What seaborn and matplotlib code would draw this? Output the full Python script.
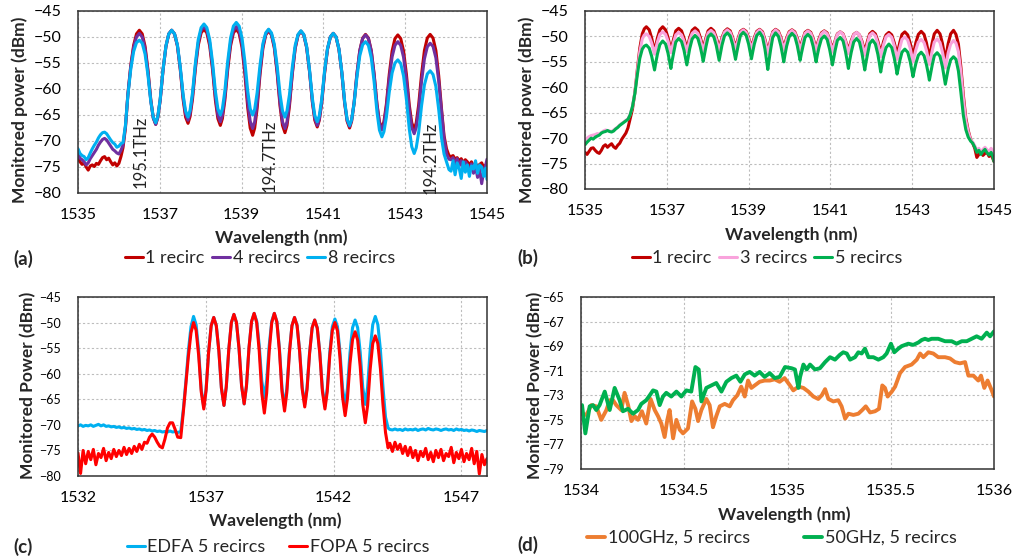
import numpy as np
import pandas as pd
import matplotlib
matplotlib.use('Agg')
import matplotlib.pyplot as plt
from matplotlib.ticker import FormatStrFormatter
import seaborn as sns

# ---------------- panel (a): 100GHz grid, 1 / 4 / 8 recirculations ----------------
wl_a = [1535.00, 1535.05, 1535.10, 1535.15, 1535.20, 1535.25, 1535.30, 1535.35, 1535.40, 1535.45, 1535.50,
        1535.55, 1535.60, 1535.65, 1535.70, 1535.75, 1535.80, 1535.85, 1535.90, 1535.95, 1536.00, 1536.05,
        1536.10, 1536.16, 1536.22, 1536.29, 1536.36, 1536.43,
        1536.50,
        1536.57, 1536.64, 1536.71, 1536.78, 1536.84, 1536.90, 1536.95, 1537.01, 1537.08, 1537.15, 1537.22, 1537.29,
        1537.36, 1537.43, 1537.50, 1537.57, 1537.63, 1537.69, 1537.74, 1537.80, 1537.87, 1537.94, 1538.01, 1538.08,
        1538.15, 1538.22, 1538.29, 1538.36, 1538.42, 1538.48, 1538.53, 1538.59, 1538.66, 1538.73, 1538.80, 1538.87,
        1538.94, 1539.01, 1539.08, 1539.15, 1539.21, 1539.27, 1539.32, 1539.38, 1539.45, 1539.52, 1539.59, 1539.66,
        1539.73, 1539.80, 1539.87, 1539.94, 1540.00, 1540.06, 1540.11, 1540.17, 1540.24, 1540.31, 1540.38, 1540.45,
        1540.52, 1540.59, 1540.66, 1540.73, 1540.79, 1540.85, 1540.90, 1540.96, 1541.03, 1541.10, 1541.17, 1541.24,
        1541.31, 1541.38, 1541.45, 1541.52, 1541.58, 1541.64, 1541.69, 1541.75, 1541.82, 1541.89, 1541.96, 1542.03,
        1542.10, 1542.17, 1542.24, 1542.31, 1542.37, 1542.43, 1542.48, 1542.54, 1542.61, 1542.68, 1542.75, 1542.82,
        1542.89, 1542.96, 1543.03, 1543.10, 1543.16, 1543.22, 1543.27, 1543.33, 1543.40, 1543.47, 1543.54, 1543.61,
        1543.68, 1543.75, 1543.82, 1543.89, 1543.95, 1544.01, 1544.07,
        1544.12, 1544.17, 1544.22, 1544.27, 1544.32, 1544.37, 1544.42, 1544.47, 1544.52, 1544.57, 1544.62,
        1544.67, 1544.72, 1544.77, 1544.82, 1544.87, 1544.92, 1544.97, 1545.00]

a_1recirc = [-73.3, -74.0, -74.5, -74.2, -75.0, -75.6, -74.8, -74.6, -74.9, -74.3, -74.5,
             -73.8, -73.2, -73.0, -73.6, -73.3, -74.0, -74.6, -74.2, -74.8, -74.3, -73.0,
             -71.3, -67.5, -61.0, -55.5, -51.6, -49.4,
             -48.7,
             -49.4, -51.8, -56.3, -62.1, -65.5, -66.8, -65.5, -62.1, -56.3, -51.8, -49.4, -48.7,
             -49.4, -51.7, -56.2, -62.0, -65.4, -66.6, -65.3, -61.9, -56.1, -51.6, -49.2, -48.5,
             -49.2, -51.7, -56.3, -62.2, -65.7, -67.0, -65.7, -62.2, -56.3, -51.7, -49.2, -48.5,
             -49.3, -52.0, -57.1, -63.6, -67.5, -68.9, -67.5, -63.7, -57.2, -52.2, -49.6, -48.8,
             -49.6, -52.1, -57.0, -63.3, -67.0, -68.4, -67.0, -63.3, -57.1, -52.2, -49.7, -48.9,
             -49.6, -52.0, -56.6, -62.5, -66.0, -67.3, -66.0, -62.6, -56.9, -52.4, -50.0, -49.3,
             -50.0, -52.4, -56.9, -62.8, -66.2, -67.5, -66.2, -62.8, -57.1, -52.6, -50.2, -49.5,
             -50.2, -52.6, -57.1, -62.9, -66.3, -67.6, -66.3, -62.9, -57.2, -52.7, -50.3, -49.6,
             -50.3, -52.7, -57.2, -63.1, -66.5, -67.8, -66.5, -63.0, -57.2, -52.6, -50.2, -49.5,
             -50.2, -52.6, -57.5, -64.0, -69.0, -71.5, -72.8,
             -73.0, -72.8, -73.5, -73.2, -73.8, -73.4, -74.2, -73.6, -74.0, -74.6, -74.0,
             -74.8, -74.3, -75.0, -74.5, -74.2, -75.1, -74.6, -74.5]

a_4recirc = [-72.5, -73.3, -73.6, -74.0, -74.6, -74.2, -73.4, -72.8, -72.2, -71.6, -70.8,
             -70.2, -69.7, -69.5, -69.8, -70.4, -71.0, -71.6, -71.9, -72.3, -72.5, -71.8,
             -70.8, -67.2, -61.0, -55.7, -52.0, -50.0,
             -49.3,
             -50.0, -52.3, -56.7, -62.3, -65.6, -66.8, -65.5, -62.1, -56.3, -51.8, -49.4, -48.7,
             -49.4, -51.6, -56.0, -61.5, -64.8, -66.0, -64.7, -61.3, -55.6, -51.1, -48.7, -48.0,
             -48.7, -51.1, -55.7, -61.5, -65.0, -66.3, -65.0, -61.5, -55.7, -51.1, -48.7, -48.0,
             -48.8, -51.3, -56.2, -62.5, -66.2, -67.6, -66.3, -62.7, -56.6, -51.8, -49.4, -48.6,
             -49.4, -51.8, -56.6, -62.7, -66.3, -67.6, -66.3, -62.7, -56.8, -52.1, -49.6, -48.9,
             -49.6, -52.0, -56.5, -62.3, -65.7, -67.0, -65.8, -62.4, -56.7, -52.3, -50.0, -49.3,
             -50.0, -52.3, -56.8, -62.6, -66.0, -67.2, -66.0, -62.6, -57.0, -52.6, -50.3, -49.6,
             -50.3, -52.7, -57.3, -63.1, -66.6, -67.9, -66.7, -63.5, -58.0, -53.8, -51.6, -50.9,
             -51.6, -53.9, -58.3, -64.0, -67.4, -68.6, -67.4, -64.1, -58.5, -54.2, -51.9, -51.2,
             -51.8, -54.0, -58.5, -64.5, -69.5, -72.5, -73.5,
             -73.6, -73.2, -74.4, -73.4, -74.8, -73.8, -75.2, -74.0, -74.6, -75.8, -74.4,
             -76.2, -75.0, -77.0, -75.4, -78.2, -75.8, -74.6, -73.5]

a_8recirc = [-71.5, -72.4, -72.8, -73.0, -73.6, -73.2, -72.3, -71.5, -70.8, -70.2, -69.4,
             -68.8, -68.4, -68.3, -68.6, -69.2, -69.8, -70.3, -70.6, -71.2, -71.0, -70.5,
             -70.3, -67.0, -61.2, -56.2, -52.8, -51.1,
             -50.6,
             -51.2, -53.3, -57.3, -62.4, -65.4, -66.5, -65.3, -61.9, -56.2, -51.7, -49.4, -48.7,
             -49.4, -51.5, -55.7, -61.1, -64.2, -65.4, -64.1, -60.7, -55.0, -50.5, -48.2, -47.5,
             -48.2, -50.5, -54.9, -60.5, -63.8, -65.0, -63.8, -60.4, -54.7, -50.2, -47.9, -47.2,
             -47.9, -50.2, -54.7, -60.4, -63.8, -65.0, -63.9, -60.7, -55.4, -51.3, -49.2, -48.5,
             -49.2, -51.4, -55.6, -61.0, -64.2, -65.4, -64.2, -61.1, -55.8, -51.6, -49.5, -48.8,
             -49.5, -51.8, -56.2, -61.8, -65.1, -66.3, -65.1, -61.9, -56.4, -52.2, -50.0, -49.3,
             -50.0, -52.3, -56.7, -62.4, -65.8, -67.0, -65.9, -62.8, -57.7, -53.6, -51.5, -50.9,
             -51.6, -54.0, -58.6, -64.4, -67.9, -69.2, -68.2, -65.4, -60.6, -56.9, -55.0, -54.4,
             -55.1, -57.5, -62.0, -67.7, -71.1, -72.4, -71.3, -68.3, -63.2, -59.2, -57.1, -56.5,
             -57.2, -59.5, -64.0, -69.5, -72.5, -74.0, -75.5,
             -75.8, -73.8, -76.5, -74.2, -75.2, -77.2, -74.0, -76.0, -74.6, -76.8, -74.8,
             -75.4, -73.8, -76.2, -74.6, -75.0, -76.8, -75.2, -77.4]

labels_a = ['1 recirc', '4 recircs', '8 recircs']
mark_wl = [1536.52, 1539.69, 1543.63]
mark_txt = ['195.1THz', '194.7THz', '194.2THz']

# ---------------- panel (b): 50GHz grid, 1 / 3 / 5 recirculations ----------------
wl_b = [1535.00, 1535.05, 1535.10, 1535.15, 1535.20, 1535.25, 1535.30, 1535.35, 1535.40, 1535.45, 1535.50,
        1535.55, 1535.60, 1535.65, 1535.70, 1535.75, 1535.80, 1535.85, 1535.90, 1535.95, 1536.00, 1536.05,
        1536.10, 1536.16, 1536.22, 1536.28, 1536.34, 1536.40, 1536.45,
        1536.50,
        1536.57, 1536.63, 1536.67, 1536.70, 1536.73, 1536.77, 1536.83, 1536.90,
        1536.97, 1537.03, 1537.07, 1537.10, 1537.13, 1537.17, 1537.22, 1537.29,
        1537.36, 1537.42, 1537.46, 1537.49, 1537.52, 1537.56, 1537.62, 1537.69,
        1537.76, 1537.82, 1537.86, 1537.89, 1537.92, 1537.96, 1538.01, 1538.08,
        1538.15, 1538.21, 1538.25, 1538.28, 1538.31, 1538.35, 1538.41, 1538.48,
        1538.55, 1538.61, 1538.65, 1538.68, 1538.71, 1538.75, 1538.80, 1538.87,
        1538.94, 1539.00, 1539.04, 1539.07, 1539.10, 1539.14, 1539.20, 1539.27,
        1539.34, 1539.40, 1539.44, 1539.47, 1539.50, 1539.54, 1539.59, 1539.66,
        1539.73, 1539.79, 1539.83, 1539.86, 1539.89, 1539.93, 1539.99, 1540.06,
        1540.13, 1540.19, 1540.23, 1540.26, 1540.29, 1540.33, 1540.38, 1540.45,
        1540.52, 1540.58, 1540.62, 1540.65, 1540.68, 1540.72, 1540.78, 1540.85,
        1540.92, 1540.98, 1541.02, 1541.05, 1541.08, 1541.12, 1541.17, 1541.24,
        1541.31, 1541.37, 1541.41, 1541.44, 1541.47, 1541.51, 1541.57, 1541.64,
        1541.71, 1541.77, 1541.81, 1541.84, 1541.87, 1541.91, 1541.96, 1542.03,
        1542.10, 1542.16, 1542.20, 1542.23, 1542.26, 1542.30, 1542.36, 1542.43,
        1542.50, 1542.56, 1542.60, 1542.63, 1542.66, 1542.70, 1542.75, 1542.82,
        1542.89, 1542.95, 1542.99, 1543.02, 1543.05, 1543.09, 1543.15, 1543.22,
        1543.29, 1543.35, 1543.39, 1543.42, 1543.45, 1543.49, 1543.54, 1543.61,
        1543.68, 1543.74, 1543.78, 1543.81, 1543.84, 1543.88, 1543.94, 1544.01,
        1544.07, 1544.13, 1544.19, 1544.25, 1544.31, 1544.37, 1544.43,
        1544.48, 1544.53, 1544.58, 1544.63, 1544.68, 1544.73, 1544.78, 1544.83, 1544.88, 1544.93, 1544.97, 1545.00]

b_1recirc = [-72.8, -73.2, -72.6, -72.0, -71.9, -72.4, -72.8, -73.0, -72.4, -71.6, -71.3,
             -71.8, -71.4, -71.1, -71.7, -72.0, -71.4, -71.0, -70.2, -69.6, -69.0, -68.0,
             -66.3, -64.3, -61.0, -56.5, -52.3, -49.5, -48.5,
             -48.1,
             -48.7, -50.3, -51.8, -53.0, -51.8, -50.3, -48.7, -48.1,
             -48.7, -50.2, -51.6, -52.8, -51.7, -50.4, -48.9, -48.4,
             -48.9, -50.3, -51.5, -52.5, -51.5, -50.2, -48.8, -48.3,
             -48.8, -50.2, -51.4, -52.4, -51.4, -50.2, -48.9, -48.4,
             -48.9, -50.2, -51.3, -52.3, -51.4, -50.2, -49.0, -48.5,
             -48.9, -50.2, -51.3, -52.2, -51.3, -50.2, -49.0, -48.6,
             -49.0, -50.2, -51.3, -52.2, -51.3, -50.2, -49.0, -48.6,
             -49.1, -50.6, -51.9, -53.0, -51.9, -50.6, -49.1, -48.6,
             -49.0, -50.2, -51.3, -52.2, -51.3, -50.3, -49.1, -48.7,
             -49.1, -50.3, -51.4, -52.3, -51.4, -50.4, -49.2, -48.8,
             -49.2, -50.4, -51.5, -52.4, -51.5, -50.5, -49.3, -48.9,
             -49.3, -50.6, -51.7, -52.6, -51.7, -50.7, -49.5, -49.1,
             -49.5, -50.8, -51.9, -52.8, -51.9, -50.8, -49.6, -49.2,
             -49.7, -50.9, -52.1, -53.0, -52.0, -50.8, -49.5, -49.0,
             -49.5, -50.9, -52.2, -53.3, -52.3, -51.0, -49.7, -49.2,
             -49.7, -51.2, -52.5, -53.6, -52.5, -51.1, -49.6, -49.1,
             -49.7, -51.3, -52.7, -53.9, -52.7, -51.2, -49.6, -49.0,
             -49.6, -51.3, -52.9, -54.2, -52.9, -51.2, -49.5, -48.8,
             -49.5, -51.4, -53.2, -54.6, -53.2, -51.4, -49.5, -48.8,
             -49.6, -51.5, -56.0, -61.5, -66.0, -68.5, -70.3,
             -71.0, -72.0, -73.8, -73.2, -72.6, -73.4, -73.0, -72.8, -73.6, -73.2, -74.0, -74.6]

b_3recirc = [-70.5, -70.0, -69.7, -69.5, -69.4, -69.3, -69.1, -69.2, -68.9, -68.6, -68.4,
             -68.5, -68.6, -68.7, -68.4, -68.1, -67.8, -67.4, -67.1, -66.8, -66.5, -66.2,
             -65.4, -63.8, -61.0, -56.8, -53.0, -50.5, -49.7,
             -49.5,
             -50.0, -51.3, -52.5, -53.5, -52.4, -51.1, -49.6, -49.1,
             -49.6, -50.9, -52.2, -53.2, -52.2, -51.0, -49.7, -49.2,
             -49.7, -50.9, -52.1, -53.0, -52.0, -50.7, -49.4, -48.9,
             -49.4, -50.7, -51.9, -52.9, -51.9, -50.6, -49.3, -48.8,
             -49.3, -50.6, -51.8, -52.8, -51.8, -50.5, -49.2, -48.7,
             -49.2, -50.5, -51.7, -52.7, -51.7, -50.5, -49.2, -48.7,
             -49.2, -50.5, -51.7, -52.7, -51.7, -50.5, -49.2, -48.7,
             -49.3, -50.9, -52.3, -53.5, -52.3, -50.9, -49.3, -48.7,
             -49.2, -50.5, -51.7, -52.7, -51.7, -50.6, -49.3, -48.8,
             -49.3, -50.6, -51.8, -52.8, -51.8, -50.7, -49.4, -48.9,
             -49.4, -50.7, -51.9, -52.9, -51.9, -50.8, -49.5, -49.0,
             -49.5, -50.8, -52.1, -53.1, -52.1, -50.9, -49.6, -49.1,
             -49.6, -51.0, -52.3, -53.4, -52.4, -51.1, -49.7, -49.2,
             -49.7, -51.2, -52.6, -53.7, -52.6, -51.3, -49.8, -49.3,
             -49.9, -51.4, -52.8, -54.0, -52.9, -51.6, -50.1, -49.6,
             -50.2, -51.8, -53.3, -54.5, -53.4, -52.1, -50.6, -50.1,
             -50.7, -52.3, -53.8, -55.0, -53.9, -52.6, -51.1, -50.6,
             -51.2, -52.8, -54.3, -55.5, -54.3, -52.8, -51.1, -50.5,
             -51.2, -53.1, -54.8, -56.2, -54.9, -53.2, -51.5, -50.8,
             -51.3, -53.0, -57.0, -62.3, -66.5, -68.8, -70.4,
             -70.8, -71.5, -72.4, -72.0, -72.8, -72.2, -71.8, -72.3, -72.6, -72.0, -72.6, -73.0]

b_5recirc = [-71.3, -70.8, -70.4, -70.0, -70.2, -69.8, -69.6, -69.4, -69.0, -68.8, -68.7,
             -68.5, -68.7, -68.8, -68.6, -68.2, -67.9, -67.5, -67.2, -66.9, -66.6, -66.3,
             -65.5, -63.8, -61.2, -57.5, -54.3, -52.5, -51.9,
             -51.7,
             -52.3, -53.9, -55.4, -56.6, -55.2, -53.5, -51.6, -50.9,
             -51.5, -53.3, -55.0, -56.3, -54.8, -53.1, -51.1, -50.4,
             -51.0, -52.7, -54.3, -55.6, -54.2, -52.4, -50.5, -49.8,
             -50.4, -52.1, -53.6, -54.9, -53.6, -51.9, -50.1, -49.5,
             -50.1, -51.8, -53.4, -54.7, -53.4, -51.7, -49.9, -49.3,
             -49.9, -51.6, -53.2, -54.5, -53.2, -51.6, -49.8, -49.2,
             -49.8, -51.5, -53.1, -54.4, -53.1, -51.5, -49.8, -49.2,
             -50.1, -52.5, -54.7, -56.5, -54.7, -52.5, -50.2, -49.3,
             -50.0, -51.9, -53.6, -55.0, -53.6, -51.9, -50.1, -49.4,
             -50.0, -51.8, -53.4, -54.7, -53.4, -51.9, -50.2, -49.6,
             -50.2, -52.0, -53.7, -55.0, -53.7, -52.2, -50.5, -49.9,
             -50.6, -52.5, -54.2, -55.6, -54.3, -52.6, -50.8, -50.2,
             -50.9, -53.0, -54.8, -56.3, -54.8, -53.1, -51.1, -50.4,
             -51.1, -53.2, -55.1, -56.6, -55.1, -53.4, -51.4, -50.7,
             -51.5, -53.5, -55.4, -57.0, -55.6, -54.0, -52.2, -51.5,
             -52.2, -54.2, -55.9, -57.4, -56.2, -54.7, -53.1, -52.5,
             -53.1, -54.9, -56.6, -57.9, -56.7, -55.3, -53.7, -53.1,
             -53.8, -55.6, -57.2, -58.6, -57.3, -55.6, -53.8, -53.2,
             -53.9, -56.0, -57.9, -59.4, -58.1, -56.4, -54.6, -54.0,
             -54.5, -56.8, -61.0, -65.5, -68.3, -69.8, -70.6,
             -71.0, -71.8, -72.8, -72.4, -73.2, -72.6, -72.2, -72.9, -73.3, -72.8, -73.6, -74.6]

labels_b = ['1 recirc', '3 recircs', '5 recircs']

# ---------------- panel (c): EDFA vs FOPA after 5 recirculations ----------------
wl_c = [1532.0, 1532.1, 1532.2, 1532.3, 1532.4, 1532.5, 1532.6, 1532.7, 1532.8, 1532.9,
        1533.0, 1533.1, 1533.2, 1533.3, 1533.4, 1533.5, 1533.6, 1533.7, 1533.8, 1533.9,
        1534.0, 1534.1, 1534.2, 1534.3, 1534.4, 1534.5, 1534.6, 1534.7, 1534.8, 1534.9,
        1535.0, 1535.1, 1535.2, 1535.3, 1535.4, 1535.5, 1535.6, 1535.7, 1535.8, 1535.9,
        1536.02, 1536.12, 1536.22, 1536.32, 1536.42,
        1536.52,
        1536.62, 1536.72, 1536.82, 1536.92, 1537.01, 1537.11, 1537.21, 1537.31,
        1537.41, 1537.51, 1537.61, 1537.71, 1537.80, 1537.90, 1538.00, 1538.10,
        1538.20, 1538.30, 1538.40, 1538.50, 1538.59, 1538.69, 1538.79, 1538.89,
        1538.99, 1539.09, 1539.19, 1539.29, 1539.38, 1539.48, 1539.58, 1539.68,
        1539.78, 1539.88, 1539.98, 1540.08, 1540.17, 1540.27, 1540.37, 1540.47,
        1540.57, 1540.67, 1540.77, 1540.87, 1540.96, 1541.06, 1541.16, 1541.26,
        1541.36, 1541.46, 1541.56, 1541.66, 1541.75, 1541.85, 1541.95, 1542.05,
        1542.15, 1542.25, 1542.35, 1542.45, 1542.54, 1542.64, 1542.74, 1542.84,
        1542.94, 1543.04, 1543.14, 1543.24, 1543.33, 1543.43, 1543.53, 1543.63,
        1543.73, 1543.83, 1543.93, 1544.03, 1544.13,
        1544.2, 1544.3, 1544.4, 1544.5, 1544.6, 1544.7, 1544.8, 1544.9, 1545.0, 1545.1,
        1545.2, 1545.3, 1545.4, 1545.5, 1545.6, 1545.7, 1545.8, 1545.9, 1546.0, 1546.1,
        1546.2, 1546.3, 1546.4, 1546.5, 1546.6, 1546.7, 1546.8, 1546.9, 1547.0, 1547.1,
        1547.2, 1547.3, 1547.4, 1547.5, 1547.6, 1547.7, 1547.8, 1547.9, 1548.0]

c_edfa = [-70.2, -70.0, -70.3, -70.1, -70.2, -70.0, -70.3, -70.1, -69.9, -70.2,
          -70.0, -70.3, -70.2, -70.4, -70.3, -70.5, -70.4, -70.6, -70.5, -70.7,
          -70.6, -70.8, -70.7, -70.9, -70.8, -71.0, -70.9, -71.1, -71.0, -71.2,
          -71.1, -71.3, -71.2, -71.4, -71.3, -71.4, -71.2, -71.4, -71.3, -71.5,
          -71.3, -67.0, -61.5, -55.4, -50.8,
          -48.8,
          -50.4, -55.5, -63.0, -66.5, -63.0, -55.7, -50.6, -49.0,
          -50.6, -55.5, -62.8, -66.2, -62.6, -55.2, -50.0, -48.4,
          -50.0, -55.1, -62.4, -65.9, -62.4, -54.9, -49.8, -48.2,
          -49.7, -54.5, -61.4, -64.7, -61.4, -54.5, -49.7, -48.2,
          -49.8, -55.1, -62.8, -66.4, -62.9, -55.6, -50.6, -49.0,
          -50.5, -55.5, -62.6, -66.0, -62.7, -55.8, -51.0, -49.5,
          -51.0, -55.9, -62.9, -66.3, -62.9, -55.8, -50.8, -49.3,
          -50.8, -55.8, -62.9, -66.3, -62.9, -55.9, -51.0, -49.5,
          -51.0, -55.8, -62.7, -66.0, -62.6, -55.3, -50.4, -48.8,
          -50.4, -55.3, -62.6, -68.5, -70.6,
          -70.9, -71.0, -70.8, -71.0, -70.9, -71.1, -70.8, -71.0, -70.9, -71.0,
          -70.8, -71.1, -70.9, -70.8, -71.0, -70.7, -70.9, -71.0, -70.8, -70.9,
          -71.1, -70.9, -70.8, -71.0, -70.9, -71.1, -70.8, -71.0, -70.9, -71.1,
          -71.0, -71.2, -71.0, -71.1, -71.3, -71.1, -71.2, -71.3, -71.1]

c_fopa = [-75.5, -79.5, -75.0, -77.6, -75.2, -76.8, -74.8, -77.8, -75.6, -76.4,
          -74.6, -77.0, -75.4, -76.6, -74.8, -76.2, -75.0, -76.0, -74.4, -75.8,
          -74.6, -75.6, -74.2, -75.2, -73.8, -74.8, -73.4, -73.6, -72.4, -71.8,
          -72.4, -73.4, -74.2, -74.5, -72.8, -70.6, -69.6, -69.6, -70.9, -72.4,
          -72.5, -67.5, -62.0, -56.5, -52.0,
          -50.0,
          -51.5, -56.4, -63.5, -66.9, -63.3, -55.8, -50.6, -49.0,
          -50.6, -55.5, -62.8, -66.2, -62.6, -55.2, -50.0, -48.4,
          -50.0, -55.1, -62.4, -65.9, -62.4, -54.9, -49.8, -48.2,
          -50.0, -55.6, -63.8, -67.7, -63.8, -55.6, -50.0, -48.2,
          -49.9, -55.5, -63.5, -67.3, -63.6, -56.0, -50.6, -49.0,
          -50.6, -55.7, -63.0, -66.5, -63.1, -56.0, -51.0, -49.5,
          -51.1, -56.1, -63.4, -66.9, -63.5, -56.4, -51.5, -50.0,
          -51.6, -56.9, -64.6, -68.2, -64.9, -58.0, -53.3, -51.8,
          -53.4, -58.6, -66.0, -69.6, -66.2, -59.1, -54.1, -52.6,
          -54.1, -59.0, -66.0, -71.5, -74.5,
          -73.6, -75.2, -73.4, -74.8, -73.8, -75.6, -74.2, -76.0, -74.4, -76.4,
          -75.0, -77.0, -75.2, -76.2, -74.6, -76.8, -75.4, -77.2, -75.0, -76.4,
          -74.8, -77.0, -75.6, -76.2, -74.4, -77.4, -75.4, -76.6, -74.8, -77.2,
          -75.6, -76.8, -74.6, -77.6, -75.2, -79.6, -75.8, -77.8, -76.6]

labels_c = ['EDFA 5 recircs', 'FOPA 5 recircs']

# ---------------- panel (d): guard band noise, 100GHz vs 50GHz ----------------
wl_d_100 = [1534.005, 1534.026, 1534.050, 1534.074, 1534.098, 1534.123, 1534.139, 1534.155, 1534.171,
            1534.195, 1534.211, 1534.228, 1534.244, 1534.260, 1534.276, 1534.295, 1534.316, 1534.337,
            1534.357, 1534.373, 1534.389, 1534.405, 1534.418, 1534.429, 1534.446, 1534.462, 1534.478,
            1534.494, 1534.518, 1534.538, 1534.554, 1534.567, 1534.583, 1534.607, 1534.623, 1534.639,
            1534.655, 1534.672, 1534.696, 1534.720, 1534.736, 1534.757, 1534.776, 1534.793, 1534.809,
            1534.825, 1534.841, 1534.865, 1534.889, 1534.914, 1534.938, 1534.962, 1534.986,
            1535.012, 1535.028, 1535.053, 1535.077, 1535.101, 1535.125, 1535.149, 1535.166, 1535.182,
            1535.198, 1535.222, 1535.246, 1535.262, 1535.279, 1535.295, 1535.319, 1535.343, 1535.362,
            1535.379, 1535.400, 1535.424, 1535.443, 1535.459, 1535.472, 1535.485, 1535.505, 1535.521,
            1535.545, 1535.569, 1535.601, 1535.626, 1535.642, 1535.658, 1535.682, 1535.706, 1535.730,
            1535.763, 1535.787, 1535.811, 1535.835, 1535.860, 1535.876, 1535.900, 1535.924, 1535.937,
            1535.953, 1535.969, 1535.989, 1536.000]
p_d_100 = [-74.5, -74.6, -73.8, -73.9, -75.0, -74.2, -73.4, -73.4, -73.8,
           -74.2, -72.8, -73.8, -75.1, -74.7, -75.0, -74.3, -75.3, -73.3,
           -74.2, -74.7, -75.3, -76.4, -75.0, -74.2, -76.5, -75.0, -75.8,
           -76.1, -75.7, -73.5, -74.1, -75.1, -74.2, -73.3, -73.8, -75.6,
           -74.7, -73.9, -73.7, -73.9, -73.4, -73.0, -72.3, -73.1, -71.8,
           -72.4, -72.2, -71.9, -71.8, -71.8, -71.7, -71.9, -71.6,
           -72.2, -72.6, -72.3, -72.4, -72.7, -73.1, -73.3, -73.0, -72.5,
           -73.3, -73.5, -73.4, -73.9, -74.9, -74.5, -74.6, -74.5, -74.2,
           -73.9, -74.4, -74.3, -74.1, -72.2, -72.4, -73.1, -72.7, -72.3,
           -71.2, -70.7, -70.5, -70.1, -69.6, -69.9, -69.5, -69.6, -69.9,
           -69.9, -70.0, -70.3, -70.4, -70.3, -71.4, -71.4, -71.8, -71.4,
           -72.4, -71.8, -72.6, -73.1]

wl_d_50 = [1534.005, 1534.021, 1534.042, 1534.058, 1534.074, 1534.090, 1534.115, 1534.139, 1534.163,
           1534.187, 1534.203, 1534.228, 1534.252, 1534.276, 1534.292, 1534.316, 1534.333, 1534.349,
           1534.365, 1534.381, 1534.397, 1534.413, 1534.437, 1534.462, 1534.486, 1534.510, 1534.534,
           1534.554, 1534.570, 1534.583, 1534.607, 1534.631, 1534.655, 1534.680, 1534.704, 1534.728,
           1534.752, 1534.772, 1534.793, 1534.817, 1534.841, 1534.865, 1534.889, 1534.914, 1534.938,
           1534.962, 1534.988, 1535.020, 1535.036, 1535.053, 1535.061, 1535.077, 1535.093, 1535.109,
           1535.133, 1535.157, 1535.182, 1535.206, 1535.230, 1535.254, 1535.270, 1535.287, 1535.303,
           1535.327, 1535.343, 1535.359, 1535.375, 1535.392, 1535.416, 1535.440, 1535.464, 1535.480,
           1535.501, 1535.517, 1535.537, 1535.553, 1535.569, 1535.585, 1535.609, 1535.634, 1535.650,
           1535.666, 1535.682, 1535.698, 1535.730, 1535.763, 1535.795, 1535.819, 1535.844, 1535.868,
           1535.892, 1535.916, 1535.940, 1535.965, 1535.981, 1536.000]
p_d_50 = [-73.8, -76.1, -73.9, -73.8, -74.2, -73.8, -72.7, -74.2, -72.4,
          -73.4, -74.3, -74.1, -74.5, -74.2, -73.7, -73.4, -73.0, -72.6,
          -72.7, -73.8, -73.1, -72.8, -73.1, -72.7, -73.1, -72.6, -72.7,
          -70.7, -70.9, -73.5, -72.4, -72.2, -72.0, -72.7, -71.9, -71.6,
          -71.4, -71.9, -71.3, -71.1, -71.4, -71.1, -71.5, -71.2, -71.6,
          -71.5, -70.7, -70.8, -70.9, -72.4, -71.5, -70.5, -70.9, -70.5,
          -70.9, -70.8, -70.3, -69.9, -70.1, -69.7, -69.5, -69.6, -70.1,
          -69.9, -69.5, -69.6, -69.2, -69.9, -69.9, -70.1, -69.9, -69.6,
          -68.8, -69.5, -69.2, -69.0, -68.9, -68.8, -68.9, -68.7, -68.5,
          -68.4, -68.5, -68.4, -68.4, -68.6, -68.6, -68.8, -68.6, -68.6,
          -68.4, -68.2, -68.4, -67.9, -68.2, -67.8]

labels_d = ['100GHz, 5 recircs', '50GHz, 5 recircs']

# ---------------- drawing ----------------
W, H = 1016, 559


def fpos(x, y):
    return x / W, 1 - y / H


def box(l, t, r, b):
    return [l / W, 1 - b / H, (r - l) / W, (b - t) / H]


sns.set_style('white')
plt.rcParams['font.family'] = ['Lato', 'DejaVu Sans']

fig = plt.figure(figsize=(W / 100, H / 100), dpi=100)


def style_axes(ax, xlim, xticks, ylim, yticks, ysize):
    ax.set_xlim(*xlim)
    ax.set_ylim(*ylim)
    ax.set_xticks(xticks)
    ax.set_yticks(yticks)
    ax.grid(True, color='#BDBDBD', linestyle=(0, (2, 2)), lw=0.8)
    ax.set_axisbelow(True)
    for s in ax.spines.values():
        s.set_color('#333333')
        s.set_linewidth(1.1)
    ax.tick_params(axis='x', length=0, pad=11, labelsize=11.5, colors='black')
    ax.tick_params(axis='y', length=0, pad=12, labelsize=ysize, colors='black')
    ax.set_xlabel('')
    ax.set_ylabel('')


def draw(ax, x, series, labels, colors, lw):
    for y, lab, c in zip(series, labels, colors):
        sns.lineplot(x=x, y=y, ax=ax, color=c, lw=lw, label=lab,
                     estimator=None, sort=False, legend=False)


def legend(ax, center, colspace):
    ax.legend(loc='center', bbox_to_anchor=fpos(*center), bbox_transform=fig.transFigure,
              ncol=3, frameon=False, fontsize=13, handlelength=1.0, handletextpad=0.15,
              columnspacing=colspace, borderpad=0, borderaxespad=0)


# (a)
ax_a = fig.add_axes(box(78, 11, 487, 193))
draw(ax_a, wl_a, [a_1recirc, a_4recirc, a_8recirc], labels_a, ['#C00000', '#7030A0', '#00B0F0'], 2.2)
style_axes(ax_a, (1535, 1545), range(1535, 1546, 2), (-80, -45), range(-80, -44, 5), 11.5)
for w, t, yy in zip(mark_wl, mark_txt, [-72.0, -72.9, -73.2]):
    ax_a.text(w, yy, t, rotation=90, ha='center', va='center', fontsize=12, color='#222222')
legend(ax_a, (260, 258), 0.4)

# (b)
ax_b = fig.add_axes(box(585, 11, 994, 189))
draw(ax_b, wl_b, [b_1recirc, b_3recirc, b_5recirc], labels_b, ['#C00000', '#F9A3DC', '#00B050'], 2.2)
style_axes(ax_b, (1535, 1545), range(1535, 1546, 2), (-80, -45), range(-80, -44, 5), 11.5)
legend(ax_b, (767, 258), 0.4)

# (c)
ax_c = fig.add_axes(box(78, 297, 487, 476))
draw(ax_c, wl_c, [c_edfa, c_fopa], labels_c, ['#00B0F0', '#FF0000'], 2.2)
style_axes(ax_c, (1532, 1548), [1532, 1537, 1542, 1547], (-80, -45), range(-80, -44, 5), 9)
legend(ax_c, (278, 547), 1.3)

# (d)
ax_d = fig.add_axes(box(581, 297, 994, 469))
draw(ax_d, wl_d_100, [p_d_100], labels_d[:1], ['#ED7D31'], 2.8)
draw(ax_d, wl_d_50, [p_d_50], labels_d[1:], ['#00B050'], 2.8)
style_axes(ax_d, (1534, 1536), [1534, 1534.5, 1535, 1535.5, 1536], (-79, -65), range(-79, -64, 2), 9)
ax_d.xaxis.set_major_formatter(FormatStrFormatter('%g'))
legend(ax_d, (772, 538), 3.0)

# axis titles and panel letters
for (xc, yc) in [(281, 238), (791, 235), (275, 521), (784, 515)]:
    fig.text(*fpos(xc, yc), 'Wavelength (nm)', ha='center', va='center', fontsize=12.5, fontweight='bold')
for (xc, yc, t) in [(20, 110, 'Monitored power (dBm)'), (527, 110, 'Monitored power (dBm)'),
                    (28, 385, 'Monitored Power (dBm)'), (535, 385, 'Monitored Power (dBm)')]:
    fig.text(*fpos(xc, yc), t, ha='center', va='center', rotation=90, fontsize=12.5, fontweight='bold')
for (xc, yc, t) in [(23, 259, '(a)'), (528, 258, '(b)'), (23, 547, '(c)'), (528, 545, '(d)')]:
    fig.text(*fpos(xc, yc), t, ha='center', va='center', fontsize=13.5, fontweight='bold')

fig.savefig('out.png', dpi=100)
